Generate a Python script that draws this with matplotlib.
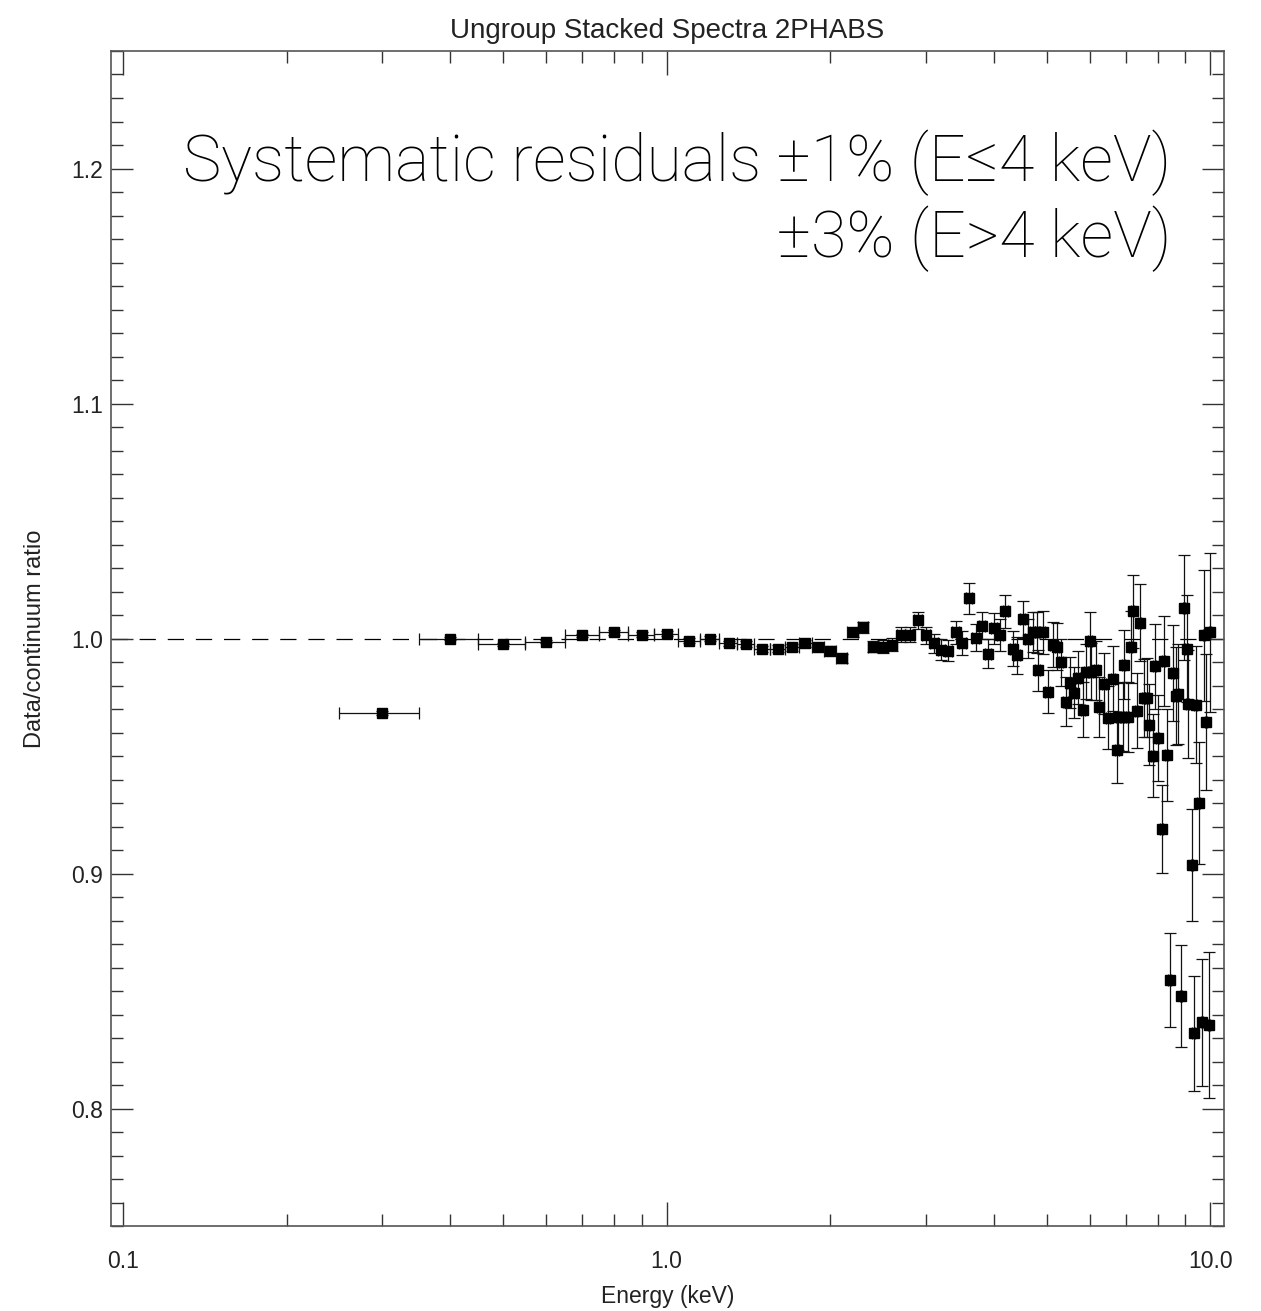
import matplotlib
matplotlib.use("Agg")
import matplotlib.pyplot as plt
from matplotlib.ticker import FixedLocator, NullFormatter
import numpy as np

plt.rcParams['font.family'] = ['Liberation Sans', 'DejaVu Sans']

# ---- data ----
energy = [0.3, 0.4, 0.5, 0.6, 0.7, 0.8, 0.9, 1.0, 1.1, 1.2, 1.3, 1.4, 1.5, 1.6,
          1.7, 1.8, 1.9, 2.0, 2.1, 2.2, 2.3, 2.4, 2.5, 2.6, 2.7, 2.8, 2.9, 3.0,
          3.1, 3.2, 3.3, 3.4, 3.5, 3.6, 3.7, 3.8, 3.9, 4.0, 4.1, 4.2,
          4.33, 4.41, 4.52, 4.62, 4.71, 4.80, 4.82, 4.92, 5.02, 5.13, 5.22,
          5.31, 5.42, 5.51, 5.61, 5.71, 5.83, 5.90, 6.00, 6.03, 6.16, 6.23,
          6.37, 6.48, 6.62, 6.73, 6.76, 6.90, 6.93, 7.05, 7.14, 7.20, 7.32,
          7.42, 7.55, 7.64, 7.71, 7.84, 7.91, 8.01, 8.14, 8.21, 8.32, 8.42,
          8.53, 8.64, 8.71, 8.83, 8.94, 9.05, 9.09, 9.25, 9.32, 9.40, 9.52,
          9.65, 9.73, 9.81, 9.94, 10.0]

ratio = [0.9684, 1.0000, 0.9975, 0.9987, 1.0013, 1.0026, 1.0017, 1.0021,
         0.9991, 1.0000, 0.9979, 0.9977, 0.9957, 0.9957, 0.9962, 0.9979,
         0.9962, 0.9949, 0.9915, 1.0026, 1.0047, 0.9966, 0.9966, 0.9974,
         1.0017, 1.0017, 1.0077, 1.0013, 0.9979, 0.9953, 0.9949, 1.0026,
         0.9983, 1.0171, 1.0004, 1.0055, 0.9936, 1.0043, 1.0013, 1.0115,
         0.9957, 0.9928, 1.0081, 1.0000, 1.0026, 1.0026, 0.9864, 1.0026,
         0.9774, 0.9974, 0.9966, 0.9898, 0.9731, 0.9812, 0.9770, 0.9834,
         0.9697, 0.9859, 0.9991, 0.9859, 0.9864, 0.9710, 0.9808, 0.9663,
         0.9829, 0.9527, 0.9667, 0.9667, 0.9889, 0.9667, 0.9962, 1.0115,
         0.9693, 1.0068, 0.9748, 0.9748, 0.9633, 0.9501, 0.9881, 0.9578,
         0.9190, 0.9906, 0.9505, 0.8546, 0.9855, 0.9757, 0.9765, 0.8478,
         1.0132, 0.9957, 0.9723, 0.9036, 0.8320, 0.9719, 0.9301, 0.8367,
         1.0013, 0.9646, 0.8354, 1.0026]

ratio_err = [0.0008, 0.0007, 0.0008, 0.0008, 0.0008, 0.0009, 0.0009, 0.0010,
             0.0010, 0.0011, 0.0012, 0.0012, 0.0013, 0.0014, 0.0015, 0.0016,
             0.0017, 0.0018, 0.0019, 0.0020, 0.0022, 0.0025, 0.0027, 0.0029,
             0.0031, 0.0033, 0.0036, 0.0038, 0.0040, 0.0043, 0.0045, 0.0048,
             0.0051, 0.0065, 0.0056, 0.0059, 0.0062, 0.0065, 0.0068, 0.0072,
             0.0075, 0.0078, 0.0080, 0.0082, 0.0085, 0.0088, 0.0088, 0.0090,
             0.0093, 0.0096, 0.0099, 0.0102, 0.0105, 0.0108, 0.0110, 0.0113,
             0.0116, 0.0118, 0.0120, 0.0121, 0.0125, 0.0127, 0.0131, 0.0134,
             0.0138, 0.0141, 0.0142, 0.0146, 0.0147, 0.0150, 0.0153, 0.0155,
             0.0159, 0.0162, 0.0166, 0.0169, 0.0172, 0.0176, 0.0179, 0.0183,
             0.0188, 0.0191, 0.0195, 0.0199, 0.0204, 0.0209, 0.0212, 0.0217,
             0.0222, 0.0227, 0.0230, 0.0240, 0.0245, 0.0250, 0.0260, 0.0270,
             0.0280, 0.0290, 0.0310, 0.0340]

bin_half_width = 0.05  # keV

x_major = [0.1, 1.0, 10.0]
x_major_labels = ["0.1", "1.0", "10.0"]
y_major = [0.8, 0.9, 1.0, 1.1, 1.2]
y_major_labels = ["0.8", "0.9", "1.0", "1.1", "1.2"]

title = "Ungroup Stacked Spectra 2PHABS"
xlabel = "Energy (keV)"
ylabel = "Data/continuum ratio"
note1 = "Systematic residuals \u00b11% (E\u22644 keV)"
note2 = "\u00b13% (E>4 keV)"

# ---- figure ----
fig = plt.figure(figsize=(12.61, 13.11), dpi=100)
ax = fig.add_axes([0.088, 0.0648, 0.8827, 0.8963])

ax.set_xscale('log')
ax.set_xlim(0.0951, 10.6)
ax.set_ylim(0.75, 1.25)

ax.axhline(1.0, color='black', lw=0.9, dashes=(13, 9.5), zorder=1)

ax.errorbar(energy, ratio, yerr=ratio_err, xerr=bin_half_width,
            fmt='s', color='black', ms=7.5, ecolor='#111111',
            elinewidth=0.9, capsize=4.5, capthick=0.9, zorder=3)

ax.xaxis.set_major_locator(FixedLocator(x_major))
ax.set_xticklabels(x_major_labels)
minor_x = [m * d for d in (0.1, 1.0) for m in range(2, 10)]
ax.xaxis.set_minor_locator(FixedLocator(minor_x))
ax.xaxis.set_minor_formatter(NullFormatter())

ax.yaxis.set_major_locator(FixedLocator(y_major))
ax.set_yticklabels(y_major_labels)
ax.yaxis.set_minor_locator(FixedLocator([0.75 + 0.01 * i for i in range(51)]))

ax.tick_params(which='both', direction='in', top=True, right=True,
               color='#333333', width=1.0, labelsize=16.5, labelcolor='#222222')
ax.tick_params(axis='x', which='major', length=17, pad=17)
ax.tick_params(axis='x', which='minor', length=8.5)
ax.tick_params(axis='y', which='major', length=16, pad=6)
ax.tick_params(axis='y', which='minor', length=8.5)

for s in ax.spines.values():
    s.set_color('#555555')
    s.set_linewidth(1.2)

ax.set_title(title, fontsize=20, pad=9, color='#222222')
ax.set_xlabel(xlabel, fontsize=16.5, labelpad=9, color='#222222')
ax.set_ylabel(ylabel, fontsize=17, labelpad=18, color='#222222')

ax.text(0.953, 0.905, note1, transform=ax.transAxes, ha='right', va='center',
        fontsize=46.5, family=['Roboto', 'DejaVu Sans'], fontweight='light',
        color='black')
ax.text(0.953, 0.840, note2, transform=ax.transAxes, ha='right', va='center',
        fontsize=46.5, family=['Roboto', 'DejaVu Sans'], fontweight='light',
        color='black')

fig.savefig("out.png", dpi=100)
